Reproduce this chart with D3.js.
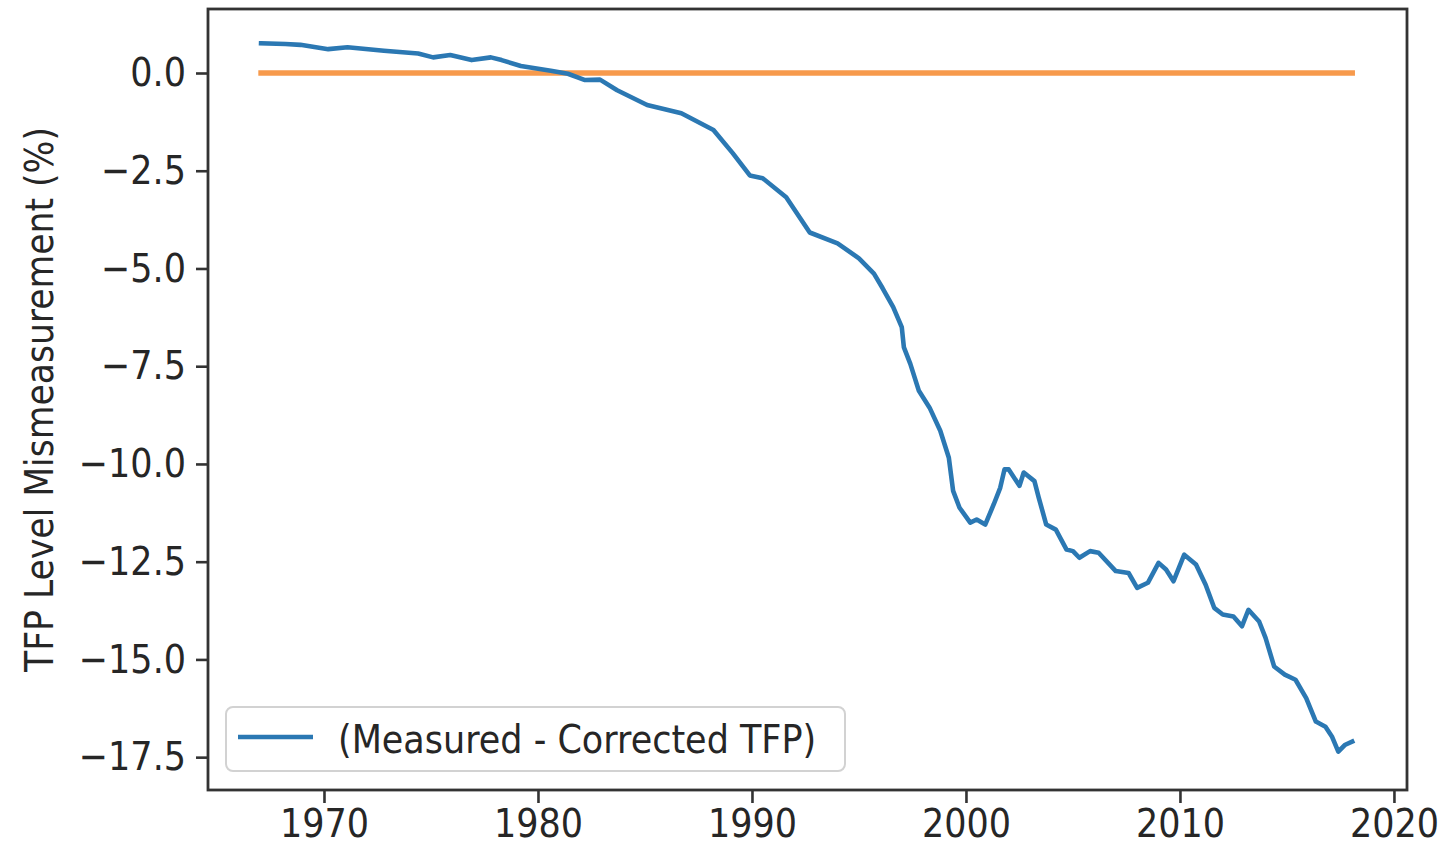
<!DOCTYPE html>
<html>
<head>
<meta charset="utf-8">
<script src="https://cdn.jsdelivr.net/npm/d3@7"></script>
<style>
  html, body { margin: 0; padding: 0; background: #fff; }
  svg { display: block; }
  text { font-family: "DejaVu Sans", sans-serif; fill: #262626; }
</style>
</head>
<body>
<svg id="chart" width="1439" height="850"></svg>
<script>
// ---- data ----
const years = [1967.06, 1968.2, 1968.9, 1970.2, 1971.1, 1972.8, 1974.4, 1975.1, 1975.9, 1976.9,
  1977.8, 1978.3, 1979.2, 1980.6, 1981.4, 1982.2, 1982.9, 1983.7, 1985.1, 1986.7,
  1988.2, 1989.1, 1989.9, 1990.5, 1991.6, 1992.7, 1994.0, 1995.0, 1995.7, 1996.1,
  1996.6, 1997.0, 1997.1, 1997.4, 1997.8, 1998.3, 1998.8, 1999.2, 1999.4, 1999.7,
  2000.2, 2000.5, 2000.9, 2001.3, 2001.6, 2001.8, 2002.0, 2002.5, 2002.7, 2003.2,
  2003.4, 2003.75, 2004.2, 2004.7, 2005.0, 2005.3, 2005.8, 2006.2, 2007.0, 2007.6,
  2008.0, 2008.5, 2009.0, 2009.35, 2009.7, 2010.2, 2010.75, 2011.2, 2011.6, 2012.0,
  2012.5, 2012.9, 2013.2, 2013.7, 2014.0, 2014.4, 2014.9, 2015.4, 2015.9, 2016.35,
  2016.8, 2017.1, 2017.4, 2017.7, 2018.05];
const mismeasurement = [0.76, 0.74, 0.72, 0.61, 0.66, 0.57, 0.50, 0.40, 0.46, 0.33,
  0.40, 0.33, 0.18, 0.06, -0.02, -0.18, -0.17, -0.44, -0.82, -1.03,
  -1.46, -2.05, -2.62, -2.69, -3.18, -4.08, -4.36, -4.74, -5.13, -5.50,
  -5.99, -6.50, -7.02, -7.44, -8.13, -8.56, -9.15, -9.84, -10.69, -11.12,
  -11.50, -11.42, -11.55, -11.03, -10.61, -10.14, -10.14, -10.56, -10.22, -10.44,
  -10.86, -11.55, -11.68, -12.19, -12.23, -12.40, -12.23, -12.27, -12.74, -12.79,
  -13.17, -13.04, -12.53, -12.70, -13.00, -12.32, -12.57, -13.09, -13.68, -13.85,
  -13.90, -14.15, -13.73, -14.03, -14.45, -15.18, -15.39, -15.52, -15.99, -16.59,
  -16.72, -16.97, -17.36, -17.19, -17.10];
const zeroYears = [1967.06, 2018.05];
const zeroValues = [0, 0];
const xTicks = [1970, 1980, 1990, 2000, 2010, 2020];
const yTicks = [0, -2.5, -5, -7.5, -10, -12.5, -15, -17.5];
const yLabel = "TFP Level Mismeasurement (%)";
const legendLabel = "(Measured - Corrected TFP)";

// ---- layout ----
const plot = { left: 208, right: 1407, top: 9, bottom: 790 };
const FS = 35;
const STRETCH = 1.14; // reference glyphs are a little taller than wide
const svg = d3.select("#chart");

const x = d3.scaleLinear().domain([1964.58, 2020.61]).range([plot.left, plot.right]);
const y = d3.scaleLinear().domain([-18.34, 1.637]).range([plot.bottom, plot.top]);

const blue = "#2b78b3";
const orange = "#f79a4c";

// lines
const line = d3.line().x(d => x(d[0])).y(d => y(d[1]));
svg.append("path")
  .datum(zeroYears.map((t, i) => [t, zeroValues[i]]))
  .attr("d", line).attr("fill", "none")
  .attr("stroke", orange).attr("stroke-width", 5.5).attr("stroke-linecap", "square");
svg.append("path")
  .datum(years.map((t, i) => [t, mismeasurement[i]]))
  .attr("d", line).attr("fill", "none")
  .attr("stroke", blue).attr("stroke-width", 4.6)
  .attr("stroke-linejoin", "round").attr("stroke-linecap", "square");

// axes
const fmtY = d3.format(".1f");
const xAxis = d3.axisBottom(x).tickValues(xTicks).tickFormat(d3.format("d"))
  .tickSize(13).tickPadding(9).tickSizeOuter(0);
const yAxis = d3.axisLeft(y).tickValues(yTicks).tickFormat(fmtY)
  .tickSize(12).tickPadding(10).tickSizeOuter(0);

const gx = svg.append("g").attr("transform", `translate(0,${plot.bottom})`).call(xAxis);
const gy = svg.append("g").attr("transform", `translate(${plot.left},0)`).call(yAxis);
[gx, gy].forEach(g => {
  g.select(".domain").remove();
  g.selectAll(".tick line").attr("stroke", "#333").attr("stroke-width", 2.6);
  g.selectAll(".tick text").attr("font-size", FS).attr("fill", "#262626")
    .style("font-family", "'DejaVu Sans', sans-serif");
});
gy.selectAll(".tick text").attr("transform", `scale(1,${STRETCH})`);
// x tick labels: baseline 47px under the spine, glyphs stretched upward from it
gx.selectAll(".tick text")
  .attr("y", 0).attr("dy", 0)
  .attr("transform", `translate(0,47) scale(1,${STRETCH})`);

// frame
svg.append("rect")
  .attr("x", plot.left).attr("y", plot.top)
  .attr("width", plot.right - plot.left).attr("height", plot.bottom - plot.top)
  .attr("fill", "none").attr("stroke", "#333").attr("stroke-width", 2.8);

// y label
svg.append("text")
  .attr("transform", `translate(53,${(plot.top + plot.bottom) / 2}) rotate(-90) scale(1,${STRETCH})`)
  .attr("text-anchor", "middle").attr("font-size", 34.6)
  .text(yLabel);

// legend
const lg = svg.append("g");
lg.append("rect")
  .attr("x", 226).attr("y", 707).attr("width", 619).attr("height", 64)
  .attr("rx", 7).attr("ry", 7)
  .attr("fill", "rgba(255,255,255,0.85)").attr("stroke", "#d2d2d2").attr("stroke-width", 2);
lg.append("line")
  .attr("x1", 238).attr("x2", 313).attr("y1", 737).attr("y2", 737)
  .attr("stroke", blue).attr("stroke-width", 4.6);
lg.append("text")
  .attr("transform", `translate(338,739) scale(1,${STRETCH})`)
  .attr("dy", "0.36em")
  .attr("font-size", FS).text(legendLabel);
</script>
</body>
</html>
